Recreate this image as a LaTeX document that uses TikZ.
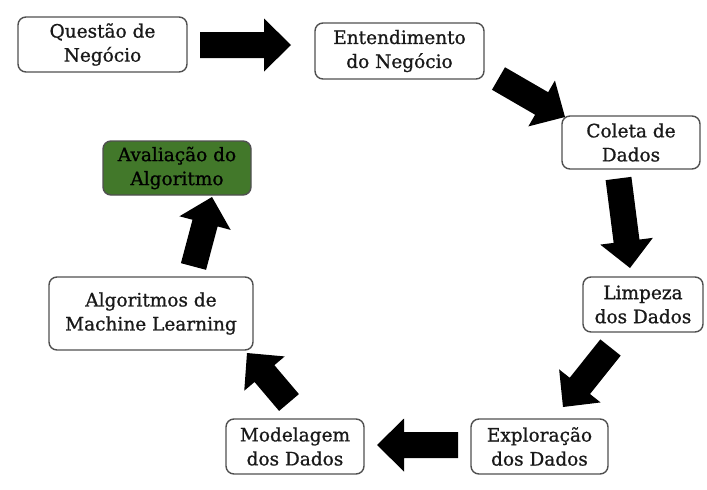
\documentclass[tikz,border=0pt]{standalone}
\usepackage{fontspec}
\setmainfont{DejaVu Serif}[FakeBold=0.9]
\usetikzlibrary{calc}
\definecolor{boxline}{RGB}{80,80,80}
\definecolor{evalgreen}{RGB}{66,120,42}
\definecolor{txt}{RGB}{25,25,25}
\tikzset{
  stepbox/.style={draw=boxline, line width=1.4pt, rounded corners=8pt, fill=white, inner sep=0pt, text=txt,
    align=center, font=\fontsize{18.5}{24}\selectfont},
  blockarrow/.style={fill=black},
}
\newcommand{\blockarr}[3]{%
  \coordinate (#3-n) at ($(#2)!27pt!(#1)$);
  \fill[blockarrow] ($(#1)!13pt!90:(#2)$) -- ($(#3-n)!13pt!-90:(#1)$) -- ($(#3-n)!26.5pt!-90:(#1)$) -- (#2)
    -- ($(#3-n)!26.5pt!90:(#1)$) -- ($(#3-n)!13pt!90:(#1)$) -- ($(#1)!13pt!-90:(#2)$) -- cycle;
}
\begin{document}
\begin{tikzpicture}[x=1pt,y=-1pt]
\useasboundingbox[fill=white] (0,0) rectangle (707,490);
% boxes
\node[stepbox, minimum width=169pt, minimum height=55pt] (q) at (102.5,44.5) {Questão de\\Negócio};
\node[stepbox, minimum width=169pt, minimum height=56pt] (e) at (399.5,51) {Entendimento\\do Negócio};
\node[stepbox, minimum width=138pt, minimum height=53pt] (c) at (631,142.5) {Coleta de\\Dados};
\node[stepbox, minimum width=120pt, minimum height=55pt] (l) at (643,304.5) {Limpeza\\dos Dados};
\node[stepbox, minimum width=137pt, minimum height=55pt] (x) at (539.5,446.5) {Exploração\\dos Dados};
\node[stepbox, minimum width=138pt, minimum height=55pt] (m) at (295,446.5) {Modelagem\\dos Dados};
\node[stepbox, minimum width=204pt, minimum height=73pt] (a) at (151,313.5) {Algoritmos de\\Machine Learning};
\node[stepbox, fill=evalgreen, text=black, minimum width=148pt, minimum height=54pt] (v) at (177,168) {Avaliação do\\Algoritmo};
% arrow end points
\coordinate (a1s) at (200,45);   \coordinate (a1t) at (291,45);
\coordinate (a2s) at (498.5,78.5); \coordinate (a2t) at (565,117);
\coordinate (a3s) at (618.5,178.5); \coordinate (a3t) at (630,268);
\coordinate (a4s) at (610.5,347.5); \coordinate (a4t) at (563,407);
\coordinate (a5s) at (458,445);  \coordinate (a5t) at (377,445);
\coordinate (a6s) at (289,402.5); \coordinate (a6t) at (247,353);
\coordinate (a7s) at (193.5,266.5); \coordinate (a7t) at (212,197);
\blockarr{a1s}{a1t}{r1}
\blockarr{a2s}{a2t}{r2}
\blockarr{a3s}{a3t}{r3}
\blockarr{a4s}{a4t}{r4}
\blockarr{a5s}{a5t}{r5}
\blockarr{a6s}{a6t}{r6}
\blockarr{a7s}{a7t}{r7}
\end{tikzpicture}
\end{document}
